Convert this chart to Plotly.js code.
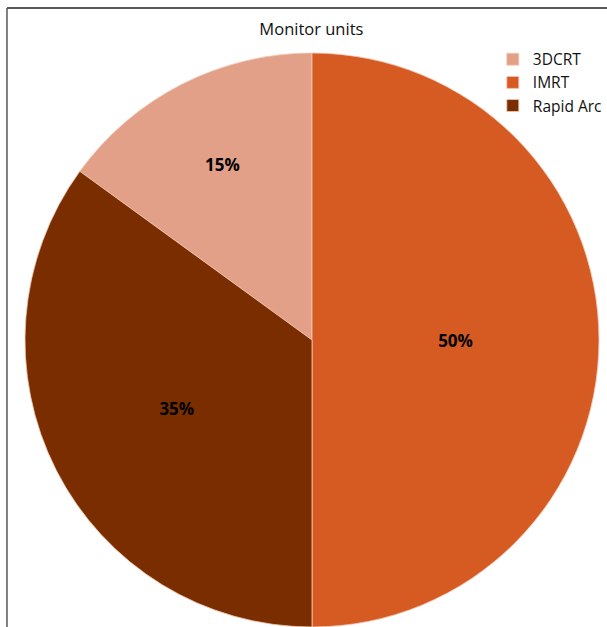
<!DOCTYPE html>
<html>
<head>
<meta charset="utf-8">
<script src="https://cdn.plot.ly/plotly-3.0.1.min.js"></script>
<style>
html,body{margin:0;padding:0;background:#fff;}
#chart{width:607px;height:627px;}
</style>
</head>
<body>
<div id="chart"></div>
<script>
const categories = ["3DCRT", "IMRT", "Rapid Arc"];
const values = [15, 50, 35];
const colors = ["#E3A088", "#D65B22", "#7A2E00"];
const chartTitle = "Monitor units";

const trace = {
  type: "pie",
  labels: categories,
  values: values,
  sort: false,
  direction: "clockwise",
  rotation: -54,
  marker: {colors: colors, line: {color: "#f2c9b5", width: 0.8}},
  textinfo: "percent",
  textposition: "inside",
  insidetextorientation: "horizontal",
  textfont: {family: "Open Sans, sans-serif", size: 17, color: "#000", weight: "bold"},
  hoverinfo: "label+percent",
  domain: {x: [0, 1], y: [0, 1]}
};

const layout = {
  width: 607,
  height: 627,
  margin: {l: 25, r: 8, t: 53, b: 0},
  paper_bgcolor: "#fff",
  plot_bgcolor: "#fff",
  title: {
    text: chartTitle,
    font: {family: "Open Sans, sans-serif", size: 16.5, color: "#111"},
    x: 0.513, xanchor: "center",
    y: 0.953, yanchor: "middle"
  },
  showlegend: true,
  legend: {
    x: 0.815, y: 1.018, xanchor: "left", yanchor: "top",
    font: {family: "Open Sans, sans-serif", size: 15.5, color: "#111"},
    itemwidth: 30,
    tracegroupgap: 0,
    bgcolor: "rgba(0,0,0,0)"
  },
  shapes: [
    {type: "line", xref: "paper", yref: "paper", x0: -0.0314, x1: 1.02, y0: 1.0784, y1: 1.0784,
     line: {color: "#222", width: 1.5}},
    {type: "line", xref: "paper", yref: "paper", x0: -0.0314, x1: -0.0314, y0: 1.0784, y1: -0.01,
     line: {color: "#555", width: 1.5}}
  ]
};

Plotly.newPlot("chart", [trace], layout, {displayModeBar: false, staticPlot: true});
</script>
</body>
</html>
